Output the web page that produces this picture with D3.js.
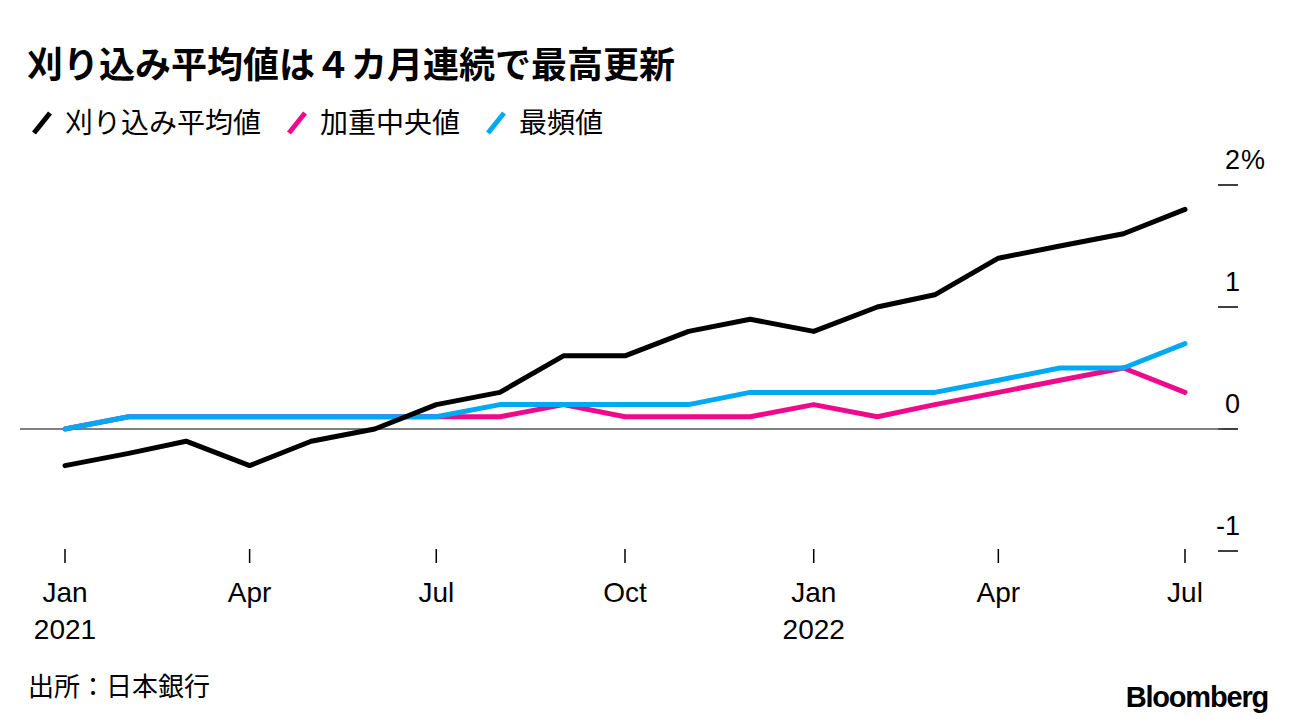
<!DOCTYPE html>
<html>
<head>
<meta charset="utf-8">
<script src="https://cdn.jsdelivr.net/npm/d3@7"></script>
<style>
  html, body { margin: 0; padding: 0; background: #fff; }
  svg { display: block; }
  text { font-family: "Liberation Sans", "Noto Sans CJK JP", sans-serif; fill: #000; }
  .jp { font-family: "Noto Sans CJK JP", sans-serif; }
</style>
</head>
<body>
<div id="chart"></div>
<script>
// monthly data Jan 2021 – Jul 2022 (%)
const months = ['2021-01','2021-02','2021-03','2021-04','2021-05','2021-06','2021-07','2021-08','2021-09','2021-10','2021-11','2021-12',
                '2022-01','2022-02','2022-03','2022-04','2022-05','2022-06','2022-07'];
const trimmedMean = [-0.3,-0.2,-0.1,-0.3,-0.1,0.0,0.2,0.3,0.6,0.6,0.8,0.9,0.8,1.0,1.1,1.4,1.5,1.6,1.8];
const weightedMedian = [0.0,0.1,0.1,0.1,0.1,0.1,0.1,0.1,0.2,0.1,0.1,0.1,0.2,0.1,0.2,0.3,0.4,0.5,0.3];
const mode = [0.0,0.1,0.1,0.1,0.1,0.1,0.1,0.2,0.2,0.2,0.2,0.3,0.3,0.3,0.3,0.4,0.5,0.5,0.7];
const seriesNames = ['刈り込み平均値','加重中央値','最頻値'];
const seriesColors = ['#000000','#ee0a8b','#00a9f2'];
const yTicks = [-1, 0, 1, 2];
const xTicks = ['2021-01','2021-04','2021-07','2021-10','2022-01','2022-04','2022-07'];
const monthLabel = ['Jan','Feb','Mar','Apr','May','Jun','Jul','Aug','Sep','Oct','Nov','Dec'];

const W = 1296, H = 724;
const parse = d3.timeParse('%Y-%m');
const dates = months.map(parse);

const svg = d3.select('#chart').append('svg')
  .attr('width', W).attr('height', H)
  .attr('viewBox', `0 0 ${W} ${H}`);

const x = d3.scaleTime()
  .domain([dates[0], dates[dates.length - 1]])
  .range([65, 1185]);
const y = d3.scaleLinear().domain([-1, 2]).range([551, 185]);

// title
svg.append('text').attr('class', 'jp')
  .attr('x', 27).attr('y', 78)
  .attr('font-size', 36).attr('font-weight', 700)
  .text('刈り込み平均値は４カ月連続で最高更新');

// legend
const legendX = [32, 287, 486];
const lg = svg.append('g');
seriesNames.forEach((name, i) => {
  const g = lg.append('g').attr('transform', `translate(${legendX[i]},0)`);
  g.append('line')
    .attr('x1', 2).attr('y1', 133).attr('x2', 18).attr('y2', 113)
    .attr('stroke', seriesColors[i]).attr('stroke-width', 5).attr('stroke-linecap', 'butt');
  g.append('text').attr('class', 'jp')
    .attr('x', 33).attr('y', 133)
    .attr('font-size', 28)
    .text(name);
});

// y axis (right)
const ya = svg.append('g');
ya.selectAll('line.tick').data(yTicks).enter().append('line')
  .attr('x1', 1218).attr('x2', 1238)
  .attr('y1', d => y(d)).attr('y2', d => y(d))
  .attr('stroke', '#000').attr('stroke-width', 1.5);
ya.selectAll('text.num').data(yTicks).enter().append('text')
  .attr('x', 1240).attr('y', d => y(d) - 16)
  .attr('text-anchor', 'end')
  .attr('font-size', 27)
  .text(d => d);
ya.append('text')
  .attr('x', 1241).attr('y', y(2) - 16)
  .attr('font-size', 27)
  .text('%');

// zero line
svg.append('line')
  .attr('x1', 20).attr('x2', 1222)
  .attr('y1', y(0)).attr('y2', y(0))
  .attr('stroke', '#555').attr('stroke-width', 1.5);

// x axis
const xa = svg.append('g');
xTicks.forEach(m => {
  const d = parse(m);
  const cx = x(d);
  xa.append('line')
    .attr('x1', cx).attr('x2', cx).attr('y1', 549).attr('y2', 563)
    .attr('stroke', '#000').attr('stroke-width', 1.5);
  xa.append('text')
    .attr('x', cx).attr('y', 602)
    .attr('text-anchor', 'middle').attr('font-size', 28)
    .text(monthLabel[d.getMonth()]);
  if (d.getMonth() === 0) {
    xa.append('text')
      .attr('x', cx).attr('y', 639)
      .attr('text-anchor', 'middle').attr('font-size', 28)
      .text(d.getFullYear());
  }
});

// lines
const line = d3.line()
  .x((d, i) => x(dates[i]))
  .y(d => y(d));
const order = [[weightedMedian, 1], [mode, 2], [trimmedMean, 0]];
order.forEach(([vals, ci]) => {
  svg.append('path')
    .datum(vals)
    .attr('d', line)
    .attr('fill', 'none')
    .attr('stroke', seriesColors[ci])
    .attr('stroke-width', 5)
    .attr('stroke-linejoin', 'round')
    .attr('stroke-linecap', 'round');
});

// footer
svg.append('text').attr('class', 'jp')
  .attr('x', 28).attr('y', 696)
  .attr('font-size', 26)
  .text('出所：日本銀行');
svg.append('text')
  .attr('x', 1268).attr('y', 707)
  .attr('text-anchor', 'end')
  .attr('font-size', 29).attr('font-weight', 700)
  .attr('letter-spacing', -1.2)
  .text('Bloomberg');
</script>
</body>
</html>
